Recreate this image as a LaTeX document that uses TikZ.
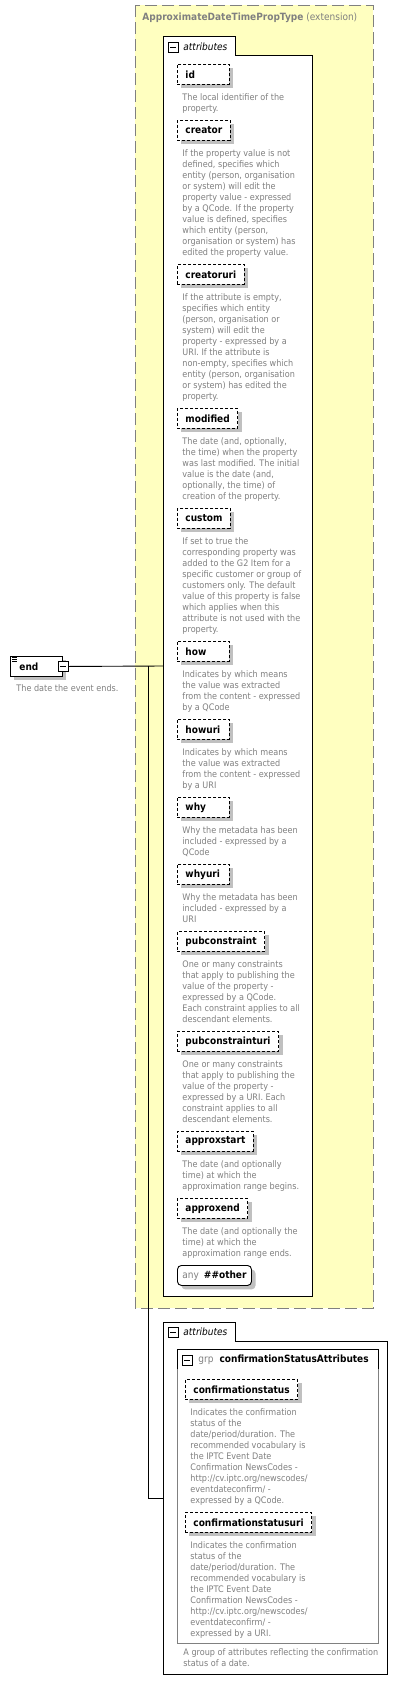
\documentclass[tikz,border=0pt]{standalone}
\usepackage{fontspec}
\setmainfont{DejaVu Sans}[FakeStretch=0.9]
\usetikzlibrary{shadows}
\definecolor{typeyellow}{RGB}{255,255,192}
\definecolor{docgray}{RGB}{128,128,128}
\definecolor{shadowgray}{RGB}{192,192,192}

\begin{document}
\begin{tikzpicture}[x=1pt,y=-1pt,line width=0.9pt,
  boxshadow/.style={drop shadow={shadow xshift=4pt,shadow yshift=-4pt,fill=shadowgray,opacity=1}},
  attrbox/.style={draw,dash pattern=on 3pt off 2pt,fill=white,boxshadow,anchor=north west,
    minimum height=20pt,inner xsep=8pt,inner ysep=0pt,font=\fontsize{10}{12}\selectfont\bfseries},
  doc/.style={anchor=north west,inner sep=0pt,align=left,text=docgray,font=\fontsize{9}{11}\selectfont},
  lbl/.style={anchor=west,inner sep=0pt,font=\fontsize{10}{12}\selectfont},
  minusbox/.style={draw,fill=white,minimum size=10pt,inner sep=0pt,line width=0.8pt,
    path picture={\draw[line width=0.8pt] ([xshift=2pt]path picture bounding box.west) -- ([xshift=-2pt]path picture bounding box.east);}}]
  \useasboundingbox (0,0) rectangle (416,1692);
  % extension type
  \draw[fill=typeyellow,draw=docgray,dash pattern=on 12pt off 5pt] (135,5) rectangle (373,1308);
  \node[lbl,text=docgray] (ext) at (142,18) {\textbf{ApproximateDateTimePropType} (extension)};
  % connectors
  \coordinate (fork) at (148,666);
  \coordinate (attrs1) at (163,666);
  \coordinate (attrs2) at (163,1498);
  \draw (fork) |- (attrs2);
  % first attributes
  \draw[fill=white] (163,36) -- (235,36) -- (235,55) -- (312,55) -- (312,1296) -- (163,1296) -- cycle;
  \node[minusbox] (tab1) at (173,47) {};
  \node[lbl,font=\fontsize{10}{12}\selectfont\itshape] (tab1-t) at (183,47) {attributes};
  \foreach \nm/\yb/\txt in {
    id/64/{The local identifier of the\\property.},
    creator/120/{If the property value is not\\defined, specifies which\\entity (person, organisation\\or system) will edit the\\property value - expressed\\by a QCode. If the property\\value is defined, specifies\\which entity (person,\\organisation or system) has\\edited the property value.},
    creatoruri/264/{If the attribute is empty,\\specifies which entity\\(person, organisation or\\system) will edit the\\property - expressed by a\\URI. If the attribute is\\non-empty, specifies which\\entity (person, organisation\\or system) has edited the\\property.},
    modified/408/{The date (and, optionally,\\the time) when the property\\was last modified. The initial\\value is the date (and,\\optionally, the time) of\\creation of the property.},
    custom/508/{If set to true the\\corresponding property was\\added to the G2 Item for a\\specific customer or group of\\customers only. The default\\value of this property is false\\which applies when this\\attribute is not used with the\\property.},
    how/641/{Indicates by which means\\the value was extracted\\from the content - expressed\\by a QCode},
    howuri/719/{Indicates by which means\\the value was extracted\\from the content - expressed\\by a URI},
    why/797/{Why the metadata has been\\included - expressed by a\\QCode},
    whyuri/864/{Why the metadata has been\\included - expressed by a\\URI},
    pubconstraint/931/{One or many constraints\\that apply to publishing the\\value of the property -\\expressed by a QCode.\\Each constraint applies to all\\descendant elements.},
    pubconstrainturi/1031/{One or many constraints\\that apply to publishing the\\value of the property -\\expressed by a URI. Each\\constraint applies to all\\descendant elements.},
    approxstart/1131/{The date (and optionally\\time) at which the\\approximation range begins.},
    approxend/1198/{The date (and optionally the\\time) at which the\\approximation range ends.}}{
    \node[attrbox] (a-\nm) at (177,\yb) {\makebox[\ifdim\width<36pt 36pt\else\width\fi][l]{\nm}};
    \node[doc] (d-\nm) at (182,\yb+29) {\txt};
  }
  \node[attrbox,solid,rounded corners=4pt,inner xsep=5pt] (anyother) at (177,1265)
    {\textcolor{docgray}{\mdseries any}\hspace{5pt}\#\#other};
  % end element
  \node[attrbox,solid,inner xsep=9pt] (end) at (10,656) {\makebox[34pt][l]{end}};
  \foreach \k in {0,1,2}
    \draw[line width=0.6pt] ([shift={(2,1.5+\k*1.7)}]end.north west) -- ++(5,0);
  \node[minusbox] (end-ic) at (end.east) {};
  \node[doc] (end-doc) at (16,684) {The date the event ends.};
  \draw (end-ic.east) -- (attrs1);
  % second attributes
  \draw[fill=white] (163,1322) -- (235,1322) -- (235,1341) -- (387,1341) -- (387,1674) -- (163,1674) -- cycle;
  \node[minusbox] (tab2) at (173,1332) {};
  \node[lbl,font=\fontsize{10}{12}\selectfont\itshape] (tab2-t) at (183,1332) {attributes};
  \draw[docgray] (177,1349) rectangle (378,1643);
  \draw (177,1369) -- (177,1349) -- (378,1349) -- (378,1369);
  \node[minusbox] (grp) at (187,1360) {};
  \node[lbl,text=docgray] (grp-t) at (198,1360) {grp\hspace{6pt}\textcolor{black}{\bfseries confirmationStatusAttributes}};
  \foreach \nm/\yb/\txt in {
    confirmationstatus/1379/{Indicates the confirmation\\status of the\\date/period/duration. The\\recommended vocabulary is\\the IPTC Event Date\\Confirmation NewsCodes -\\http://cv.iptc.org/newscodes/\\eventdateconfirm/ -\\expressed by a QCode.},
    confirmationstatusuri/1512/{Indicates the confirmation\\status of the\\date/period/duration. The\\recommended vocabulary is\\the IPTC Event Date\\Confirmation NewsCodes -\\http://cv.iptc.org/newscodes/\\eventdateconfirm/ -\\expressed by a URI.}}{
    \node[attrbox] (a-\nm) at (185,\yb) {\nm};
    \node[doc] (d-\nm) at (190,\yb+29) {\txt};
  }
  \node[doc] (grp-doc) at (183,1648) {A group of attributes reflecting the confirmation\\status of a date.};
\end{tikzpicture}
\end{document}
